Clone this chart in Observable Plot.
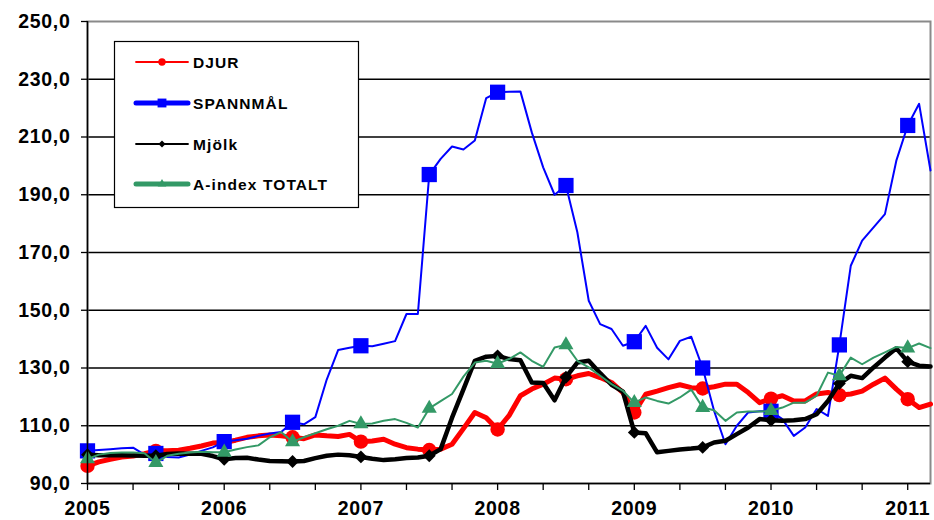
<!DOCTYPE html>
<html><head><meta charset="utf-8">
<script src="https://cdn.jsdelivr.net/npm/d3@7"></script>
<script src="https://cdn.jsdelivr.net/npm/@observablehq/plot@0.6"></script>
<style>
body{margin:0;background:#fff;}
#chart{width:934px;height:520px;}
</style></head><body><div id="chart"></div>
<script>
// Monthly index values, January 2005 (index 0) to March 2011 (index 74)
const startYear = 2005;
const seriesNames = ["DJUR", "SPANNMÅL", "Mjölk", "A-index TOTALT"];
const djur = [96.1,97.5,98.4,99.2,99.5,100.3,101.3,101.3,101.5,102.2,103,104,
  104.2,105,106,106.5,106.8,106.5,106,105.5,106.8,106.5,106.3,107,
  104.5,104.7,105.3,103.6,102.4,101.9,101.6,101.9,103.6,109,114.6,112.8,
  108.7,113.5,120.4,122.7,124.4,126.5,126.1,127.3,128.1,126.7,125,121.5,
  114.6,120.9,122,123.2,124.2,123.2,122.9,123.5,124.4,124.4,121.5,118,
  119.4,120.4,118.6,118.6,121,121.5,120.6,121,122,124.4,126.5,122.7,
  119.2,116.3,117.5];
const spannmal = [101.3,101.6,101.9,102.2,102.4,100,100.4,99.2,99,100,101.3,102.5,
  104.5,105,105.5,106.5,107.3,107.8,111.2,110.5,113,126,136.2,137,
  137.7,137.5,138.4,139.3,148.7,148.7,197,202.4,206.7,205.7,208.8,223.5,
  225.5,225.7,225.8,211.6,199.5,190,193.2,177,153.3,145.2,143.5,137.7,
  139.1,144.6,137,133,139.4,140.8,130,115.2,103.6,110,114.6,115,
  115,112.3,106.5,109.4,115.8,113.4,138,165.4,174.1,178.7,183.3,201.8,
  214,221.5,198.4];
const mjolk = [100,99.8,99.8,99.8,99.7,99.6,99.6,100.2,100.4,100.3,100.3,99.5,
  98.4,98.8,98.9,98.3,97.8,97.7,97.6,97.8,98.8,99.6,100,99.8,
  99.2,98.6,98.1,98.4,98.8,99,99.6,101.9,112.8,122.6,132.5,133.9,
  134.2,133.1,132.7,125,124.8,118.8,126.8,131.9,132.5,128.2,124.2,121.8,
  107.7,107.4,100.8,101.3,101.8,102.1,102.5,104.2,104.8,107.1,109.4,112.3,
  111.9,111.7,111.9,112.3,114,118.6,124.6,127.3,126.5,130.2,133.6,136.8,
  132.2,130.8,130.5];
const aindex = [98.5,100,100.6,100.7,100.7,100.5,97.2,99.6,100.3,100.7,101,100.8,
  100.8,101.8,102.6,103.2,106,107.8,104.4,106,107.4,108.8,110,111.7,
  110.6,110.8,111.7,112.3,111,109.4,116,118.5,121,127,131.9,132.5,
  131.5,133.1,135.4,132.5,130.4,137.1,138,132.5,130.2,127.3,124.4,122.1,
  118,119.8,118.6,117.7,119.8,122.5,116.3,115.4,111.7,114.6,114.9,114.9,
  115.2,116.3,118,118,120.4,128.4,127.3,133.6,131.3,133.6,135.4,137.3,
  136.9,138.5,136.9];
const yTicks = [90,110,130,150,170,190,210,230,250];
const yearLabels = ["2005","2006","2007","2008","2009","2010","2011"];

// Styles (not data)
const styles = {
  "DJUR": {color:"#ff0000", width:5, symbol:"circle", r:7.2, lw:1.8, lr:3.7, lsym:"circle"},
  "SPANNMÅL": {color:"#0000ff", width:2, symbol:"square", r:8.6, lw:5, lr:5, lsym:"square"},
  "Mjölk": {color:"#000000", width:4.5, symbol:"diamond2", r:5.8, lw:1.8, lr:3.2, lsym:"diamond2"},
  "A-index TOTALT": {color:"#339966", width:2, symbol:"triangle", r:5.6, lw:5, lr:3.2, lsym:"triangle"}
};

const valueLists = [djur, spannmal, mjolk, aindex];
const lastIndex = djur.length - 1;
const xDomain = [startYear, startYear + lastIndex / 12];
const xTicks = d3.range(0, Math.floor(lastIndex / 4) + 1).map(k => startYear + k / 3);

const marks = [
  Plot.gridY(yTicks.filter(v => v > 90 && v < 250), {stroke:"#000", strokeOpacity:1, strokeWidth:1.3}),
  Plot.frame({stroke:"#8a8a8a", strokeWidth:2})
];
seriesNames.forEach((name, si) => {
  const st = styles[name];
  const data = valueLists[si].map((v, i) => ({t: startYear + i / 12, v, i}));
  marks.push(Plot.line(data, {x:"t", y:"v", stroke:st.color, strokeWidth:st.width, strokeLinejoin:"round", strokeLinecap:"round"}));
  marks.push(Plot.dot(data.filter(d => d.i % 6 === 0), {x:"t", y:"v", symbol:() => st.symbol, r:st.r, fill:st.color, stroke:"none"}));
});
marks.push(Plot.ruleX([startYear], {stroke:"#000", strokeWidth:1.5}));
marks.push(Plot.ruleY([90], {stroke:"#000", strokeWidth:1.5}));
marks.push(Plot.axisY({ticks: yTicks, tickSize: 6, tickPadding: 11, strokeWidth:1.3,
  tickFormat: d => d.toFixed(1).replace(".", ","), label: null}));
marks.push(Plot.axisX({ticks: xTicks, tickSize: 7, tickPadding: 11, strokeWidth:1.3,
  tickFormat: d => { const k = Math.round((d - startYear) * 3); return k % 3 === 0 ? yearLabels[k / 3] : ""; }, label: null}));

const chart = Plot.plot({
  width: 934, height: 520,
  marginLeft: 87, marginRight: 4, marginTop: 21, marginBottom: 37,
  x: {domain: xDomain},
  y: {domain: [90, 250]},
  style: {fontFamily: "Arial, 'Liberation Sans', sans-serif", fontSize: "19.5px", fontWeight: "bold", color: "#000", background: "#fff", letterSpacing: "0.7px"},
  marks
});
document.getElementById("chart").appendChild(chart);

// Legend box
const svg = d3.select(chart);
const lg = svg.append("g");
lg.append("rect").attr("x", 114.5).attr("y", 41.5).attr("width", 244).attr("height", 166)
  .attr("fill", "#fff").attr("stroke", "#000").attr("stroke-width", 1.2);
const rowY = [62, 103, 144, 184];
const symMap = {circle: d3.symbolCircle, square: d3.symbolSquare, diamond2: d3.symbolDiamond2, triangle: d3.symbolTriangle};
seriesNames.forEach((name, i) => {
  const st = styles[name];
  const y = rowY[i];
  lg.append("line").attr("x1", 136).attr("x2", 188).attr("y1", y).attr("y2", y)
    .attr("stroke", st.color).attr("stroke-width", st.lw).attr("stroke-linecap", "round");
  lg.append("path").attr("d", d3.symbol(symMap[st.lsym], Math.PI * st.lr * st.lr)())
    .attr("transform", `translate(162,${y})`).attr("fill", st.color);
  lg.append("text").attr("x", 193).attr("y", y).attr("dy", "0.36em")
    .attr("text-anchor", "start")
    .style("font-size", "15.5px").style("font-weight", "bold").style("letter-spacing", "1.1px")
    .attr("fill", "#000").text(name);
});
</script>
</body></html>
